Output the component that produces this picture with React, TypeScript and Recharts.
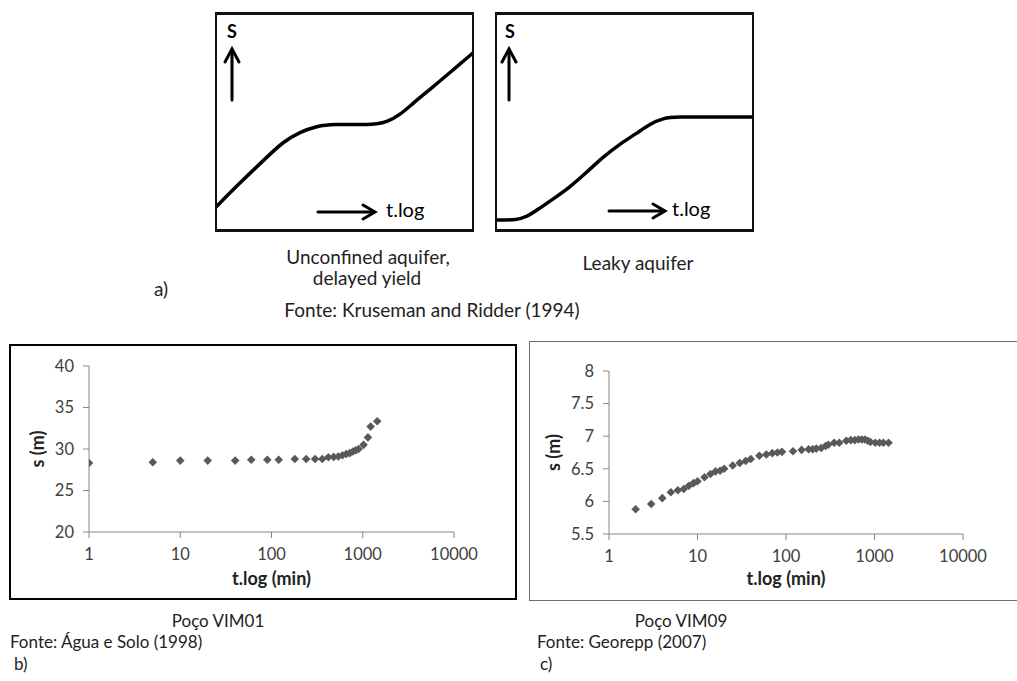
import React from 'react';
import { LineChart, Line, XAxis, YAxis, ScatterChart, Scatter } from 'recharts';

const FONT = 'Lato, "Open Sans", "DejaVu Sans", sans-serif';

// a) schematic curves: normalized t.log position vs drawdown s
const unconfinedT = [0, 0.093, 0.198, 0.261, 0.327, 0.393, 0.455, 0.588, 0.626, 0.665, 0.716, 0.767, 0.844, 0.922, 1];
const unconfinedS = [0.106, 0.217, 0.336, 0.406, 0.452, 0.479, 0.488, 0.485, 0.488, 0.498, 0.53, 0.585, 0.659, 0.737, 0.816];
const leakyT = [0.004, 0.082, 0.121, 0.16, 0.222, 0.288, 0.354, 0.416, 0.482, 0.549, 0.599, 0.65, 0.704, 0.85, 1];
const leakyS = [0.046, 0.046, 0.062, 0.092, 0.143, 0.198, 0.267, 0.336, 0.396, 0.447, 0.488, 0.516, 0.521, 0.521, 0.521];

// b) Poço VIM01
const vim01T = [1, 5, 10, 20, 40, 60, 90, 120, 180, 240, 300, 360, 420, 480, 540, 600, 660, 720, 780, 840, 900, 1020, 1140, 1220, 1440];
const vim01S = [28.3, 28.4, 28.6, 28.6, 28.6, 28.7, 28.7, 28.7, 28.8, 28.8, 28.8, 28.8, 29.0, 29.05, 29.1, 29.25, 29.4, 29.5, 29.7, 29.85, 30.0, 30.5, 31.4, 32.7, 33.35];

// c) Poço VIM09
const vim09T = [2, 3, 4, 5, 6, 7, 8, 9, 10, 12, 14, 16, 18, 20, 25, 30, 35, 40, 50, 60, 70, 80, 90, 120, 150, 180, 200, 220, 250, 280, 300, 350, 400, 480, 540, 600, 660, 720, 780, 840, 900, 1020, 1140, 1260, 1440];
const vim09S = [5.88, 5.96, 6.05, 6.14, 6.17, 6.19, 6.24, 6.28, 6.31, 6.37, 6.42, 6.46, 6.47, 6.5, 6.55, 6.59, 6.62, 6.65, 6.7, 6.72, 6.74, 6.75, 6.76, 6.77, 6.79, 6.8, 6.8, 6.81, 6.82, 6.85, 6.87, 6.9, 6.9, 6.93, 6.94, 6.94, 6.95, 6.95, 6.95, 6.93, 6.91, 6.9, 6.9, 6.9, 6.9];

const xTicks = [1, 10, 100, 1000, 10000];
const vim01YTicks = [20, 25, 30, 35, 40];
const vim09YTicks = [5.5, 6, 6.5, 7, 7.5, 8];

const zip = (t: number[], s: number[]) => t.map((v, i) => ({ t: v, s: s[i] }));

const unconfinedData = zip(unconfinedT, unconfinedS);
const leakyData = zip(leakyT, leakyS);
const vim01Data = zip(vim01T, vim01S);
const vim09Data = zip(vim09T, vim09S);

const TEXT = '#222';
const AXIS = '#868686';
const MARK = '#595959';
const CAP = 19;

const Diamond = (props: any) => {
  const { cx, cy } = props;
  if (cx == null || cy == null) return null;
  const r = 4.3;
  return <path d={`M${cx},${cy - r}L${cx + r},${cy}L${cx},${cy + r}L${cx - r},${cy}Z`} fill={MARK} />;
};

const Txt = ({ x, y, children, anchor = 'middle', size = CAP }: any) => {
  const lh = Math.round(size * 1.25);
  return (
    <div
      style={{
        position: 'absolute',
        left: x,
        top: y - lh / 2,
        lineHeight: `${lh}px`,
        fontSize: size,
        color: TEXT,
        whiteSpace: 'nowrap',
        transform: anchor === 'middle' ? 'translateX(-50%)' : undefined,
      }}
    >
      {children}
    </div>
  );
};

const yTitle = (dx: number) => (props: any) => {
  const vb = props.viewBox || {};
  const x = vb.x + dx;
  const y = vb.y + vb.height / 2;
  return (
    <text x={x} y={y} transform={`rotate(-90 ${x} ${y})`} textAnchor="middle" dominantBaseline="central"
      fontSize={18} fontWeight={700} fill={TEXT} fontFamily={FONT}>
      s (m)
    </text>
  );
};

const xTitle = (dy: number) => (props: any) => {
  const vb = props.viewBox || {};
  const x = vb.x + vb.width / 2;
  const y = vb.y + dy;
  return (
    <text x={x} y={y} textAnchor="middle" dominantBaseline="central"
      fontSize={18} fontWeight={700} fill={TEXT} fontFamily={FONT}>
      t.log (min)
    </text>
  );
};

const tickStyle = { fontSize: 16.5, fill: '#404040', fontFamily: FONT };

const Schematic = ({ data, left }: any) => (
  <>
    <div style={{ position: 'absolute', left, top: 13 }}>
      <LineChart width={257} height={217} data={data} margin={{ top: 0, right: 0, bottom: 0, left: 0 }}>
        <XAxis type="number" dataKey="t" domain={[0, 1]} hide />
        <YAxis type="number" domain={[0, 1]} hide />
        <Line type="basis" dataKey="s" stroke="#000" strokeWidth={3.5} dot={false} isAnimationActive={false} />
      </LineChart>
    </div>
    <div
      style={{
        position: 'absolute', left: left - 1, top: 12, width: 259, height: 220, boxSizing: 'border-box',
        borderStyle: 'solid', borderColor: '#111', borderWidth: '3px 2px 3px 2px',
      }}
    />
  </>
);

export default function App() {
  return (
    <div style={{ position: 'absolute', left: 0, top: 0, width: 1017, height: 681, overflow: 'hidden', background: '#fff', fontFamily: FONT }}>
      {/* a) schematics */}
      <Schematic data={unconfinedData} left={216} />
      <Schematic data={leakyData} left={496} />

      <svg width={1017} height={300} style={{ position: 'absolute', left: 0, top: 0, pointerEvents: 'none' }}>
        <g stroke="#000" strokeWidth={3} fill="none" strokeLinecap="round" strokeLinejoin="miter">
          <line x1={232} y1={100} x2={232} y2={50} />
          <polyline points="225,62 232,49 239,62" />
          <line x1={318} y1={212} x2={373} y2={212} />
          <polyline points="363,205 375,212 363,219" />
          <line x1={509} y1={100} x2={509} y2={50} />
          <polyline points="502,62 509,49 516,62" />
          <line x1={609} y1={211} x2={663} y2={211} />
          <polyline points="653,204 665,211 653,218" />
        </g>
        <g fontFamily={FONT} fill="#000">
          <text x={232} y={38} fontSize={18} fontWeight={700} textAnchor="middle">S</text>
          <text x={510} y={38} fontSize={18} fontWeight={700} textAnchor="middle">S</text>
          <text x={386} y={217} fontSize={20}>t.log</text>
          <text x={672} y={216} fontSize={20}>t.log</text>
        </g>
      </svg>

      <Txt x={368} y={257}>Unconfined aquifer,</Txt>
      <Txt x={367} y={278}>delayed yield</Txt>
      <Txt x={638} y={263}>Leaky aquifer</Txt>
      <Txt x={154} y={289} anchor="start">a)</Txt>
      <Txt x={432} y={310}>Fonte: Kruseman and Ridder (1994)</Txt>

      {/* b) Poço VIM01 */}
      <div style={{ position: 'absolute', left: 9, top: 344, width: 508, height: 256, boxSizing: 'border-box', border: '2px solid #000' }} />
      <div style={{ position: 'absolute', left: 11, top: 346 }}>
        <ScatterChart width={504} height={252} margin={{ top: 20, right: 61, bottom: 0, left: 0 }}>
          <XAxis type="number" dataKey="t" scale="log" domain={[1, 10000]} ticks={xTicks} allowDataOverflow
            height={66} stroke={AXIS} tickSize={6} tickMargin={10} tick={tickStyle} interval={0}
            label={{ content: xTitle(46) }} />
          <YAxis type="number" dataKey="s" domain={[20, 40]} ticks={vim01YTicks} width={78}
            stroke={AXIS} tickSize={6} tickMargin={9} tick={tickStyle} interval={0}
            label={{ content: yTitle(26) }} />
          <Scatter data={vim01Data} shape={<Diamond />} isAnimationActive={false} />
        </ScatterChart>
      </div>
      <Txt x={218} y={620} size={17}>Poço VIM01</Txt>
      <Txt x={10} y={641} anchor="start" size={17}>Fonte: Água e Solo (1998)</Txt>
      <Txt x={14} y={663} anchor="start" size={17}>b)</Txt>

      {/* c) Poço VIM09 */}
      <div style={{ position: 'absolute', left: 529, top: 341, width: 510, height: 260, boxSizing: 'border-box', border: '1px solid #6e6e6e' }} />
      <div style={{ position: 'absolute', left: 530, top: 342 }}>
        <ScatterChart width={487} height={258} margin={{ top: 29, right: 54, bottom: 0, left: 0 }}>
          <XAxis type="number" dataKey="t" scale="log" domain={[1, 10000]} ticks={xTicks} allowDataOverflow
            height={66} stroke={AXIS} tickSize={6} tickMargin={10} tick={tickStyle} interval={0}
            label={{ content: xTitle(44) }} />
          <YAxis type="number" dataKey="s" domain={[5.5, 8]} ticks={vim09YTicks} width={79}
            stroke={AXIS} tickSize={6} tickMargin={9} tick={tickStyle} interval={0}
            label={{ content: yTitle(23) }} />
          <Scatter data={vim09Data} shape={<Diamond />} isAnimationActive={false} />
        </ScatterChart>
      </div>
      <Txt x={681} y={620} size={17}>Poço VIM09</Txt>
      <Txt x={537} y={641} anchor="start" size={17}>Fonte: Georepp (2007)</Txt>
      <Txt x={540} y={663} anchor="start" size={17}>c)</Txt>
    </div>
  );
}
